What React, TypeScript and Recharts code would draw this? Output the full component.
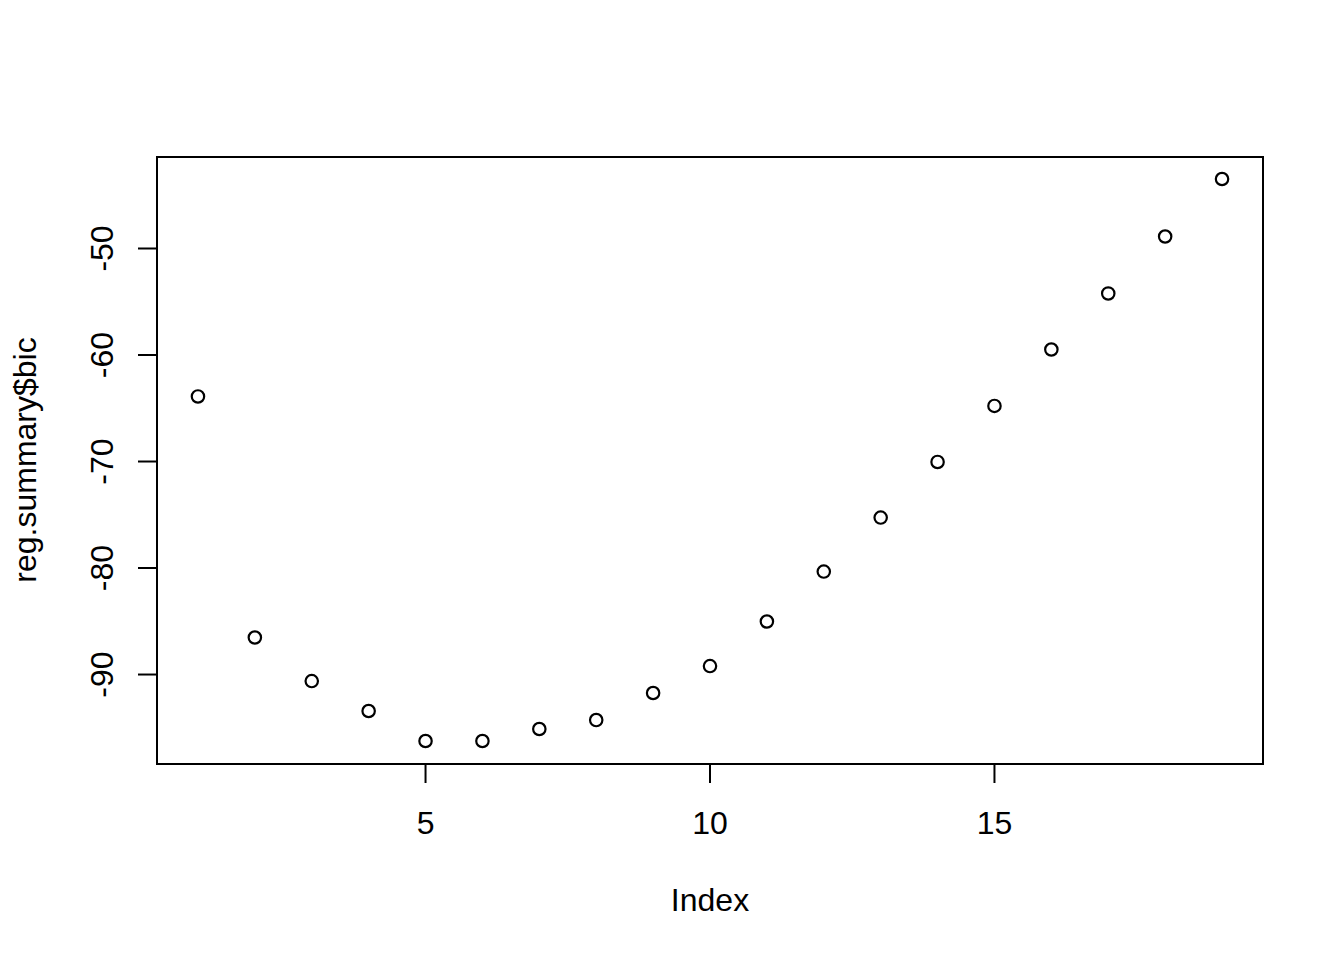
import { ScatterChart, Scatter, XAxis, YAxis, ReferenceArea } from 'recharts'

// reg.summary$bic plotted against its index (R base plot look)

const bic = [
  -63.94, -86.57, -90.66, -93.47, -96.29, -96.29, -95.16, -94.32, -91.78, -89.25,
  -85.07, -80.38, -75.31, -70.09, -64.83, -59.53, -54.27, -48.92, -43.52,
]
const xTicks = [5, 10, 15]
const yTicks = [-90, -80, -70, -60, -50]

const points = bic.map((v, i) => ({ index: i + 1, bic: v }))

// R pads the data range by 4% on each side
const pad = (lo: number, hi: number): [number, number] => {
  const r = hi - lo
  return [lo - 0.04 * r, hi + 0.04 * r]
}
const xDomain = pad(1, bic.length)
const yDomain = pad(Math.min(...bic), Math.max(...bic))

const FONT = '"Liberation Sans", Arial, sans-serif'

function XTick(props: any) {
  const { x, payload } = props
  return (
    <text x={x} y={834} textAnchor="middle" fontSize={32} fontFamily={FONT} fill="#000">
      {payload.value}
    </text>
  )
}

function YTick(props: any) {
  const { y, payload } = props
  return (
    <text
      x={113}
      y={y}
      transform={`rotate(-90 113 ${y})`}
      textAnchor="middle"
      fontSize={32}
      fontFamily={FONT}
      fill="#000"
    >
      {payload.value}
    </text>
  )
}

function OpenCircle(props: any) {
  const { cx, cy } = props
  return <circle cx={cx} cy={cy - 0.5} r={6.2} fill="none" stroke="#000" strokeWidth={2.2} />
}

export default function App() {
  return (
    <div style={{ position: 'absolute', left: 0, top: 0, width: 1344, height: 960, background: '#fff' }}>
      <ScatterChart width={1344} height={960} margin={{ top: 157, right: 81, bottom: 0, left: 0 }}>
        <XAxis
          type="number"
          dataKey="index"
          domain={xDomain}
          ticks={xTicks}
          allowDataOverflow
          height={196}
          axisLine={false}
          tickSize={19}
          tickLine={{ stroke: '#000', strokeWidth: 2 }}
          tick={<XTick />}
          label={{
            content: () => (
              <text x={710} y={911} textAnchor="middle" fontSize={32} fontFamily={FONT} fill="#000">
                Index
              </text>
            ),
          }}
        />
        <YAxis
          type="number"
          dataKey="bic"
          domain={yDomain}
          ticks={yTicks}
          allowDataOverflow
          width={157}
          axisLine={false}
          tickSize={19}
          tickLine={{ stroke: '#000', strokeWidth: 2 }}
          tick={<YTick />}
          label={{
            content: () => (
              <text
                x={36}
                y={460}
                transform="rotate(-90 36 460)"
                textAnchor="middle"
                fontSize={32}
                fontFamily={FONT}
                fill="#000"
              >
                reg.summary$bic
              </text>
            ),
          }}
        />
        <ReferenceArea
          x1={xDomain[0]}
          x2={xDomain[1]}
          y1={yDomain[0]}
          y2={yDomain[1]}
          fill="none"
          fillOpacity={0}
          stroke="#000"
          strokeWidth={2}
          ifOverflow="visible"
        />
        <Scatter data={points} shape={<OpenCircle />} isAnimationActive={false} />
      </ScatterChart>
    </div>
  )
}
